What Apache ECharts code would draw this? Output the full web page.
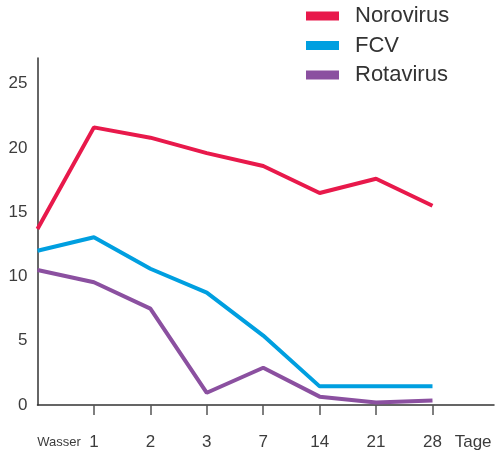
<!DOCTYPE html>
<html>
<head>
<meta charset="utf-8">
<script src="https://cdn.jsdelivr.net/npm/echarts@6/dist/echarts.min.js"></script>
<style>
  html, body { margin: 0; padding: 0; background: #fff; }
  #chart { width: 495px; height: 452px; }
</style>
</head>
<body>
<div id="chart"></div>
<script>
// Tage nach Kontakt
var categories = ['Wasser', '1', '2', '3', '7', '14', '21', '28'];
var norovirus = [13.7, 21.6, 20.8, 19.6, 18.6, 16.5, 17.6, 15.5];
var fcv = [12.0, 13.05, 10.6, 8.75, 5.4, 1.45, 1.45, 1.45];
var rotavirus = [10.5, 9.55, 7.5, 0.95, 2.9, 0.65, 0.2, 0.35];
var yTicks = [0, 5, 10, 15, 20, 25];

var fontFam = 'Liberation Sans, Arial, sans-serif';

function toPoints(vals) {
  return vals.map(function (v, i) { return [i, v]; });
}

var tickIdx = categories.map(function (c, i) { return i; });
var TAGE_POS = 7.72; // wo das "Tage" steht

var chart = echarts.init(document.getElementById('chart'));
var option = {
  animation: false,
  textStyle: { fontFamily: fontFam },
  grid: { left: 37.5, right: 1, top: 58, bottom: 47, containLabel: false, outerBoundsMode: 'none' },
  legend: {
    orient: 'vertical',
    left: 306,
    top: 5,
    padding: 0,
    icon: 'rect',
    itemWidth: 33,
    itemHeight: 9,
    itemGap: 7.5,
    textStyle: { fontSize: 22, color: '#333', padding: [0, 0, 0, 11], fontFamily: fontFam },
    data: ['Norovirus', 'FCV', 'Rotavirus']
  },
  xAxis: {
    type: 'value',
    min: 0,
    max: 8.09,
    axisLine: { lineStyle: { color: '#333', width: 1.5 } },
    axisTick: {
      show: true,
      length: 10,
      customValues: tickIdx.slice(1),
      lineStyle: { color: '#555', width: 1.5 }
    },
    splitLine: { show: false },
    axisLabel: {
      customValues: tickIdx.concat([TAGE_POS]),
      margin: 29,
      fontSize: 17,
      color: '#3c3c3c',
      formatter: function (v) {
        if (v === 0) return '{w|' + categories[0] + '}';
        if (v === TAGE_POS) return 'Tage';
        return categories[v];
      },
      rich: {
        w: { fontSize: 13, color: '#3c3c3c', padding: [0, 0, 0, 43], lineHeight: 17 }
      }
    }
  },
  yAxis: {
    type: 'value',
    min: 0,
    max: 27,
    interval: 5,
    axisLine: { show: true, lineStyle: { color: '#333', width: 1.5 } },
    axisTick: { show: false },
    splitLine: { show: false },
    axisLabel: {
      customValues: yTicks,
      margin: 10,
      fontSize: 17,
      color: '#3c3c3c'
    }
  },
  series: [
    {
      name: 'Norovirus', type: 'line', data: toPoints(norovirus),
      symbol: 'none', color: '#E8194B', lineStyle: { width: 4 }
    },
    {
      name: 'FCV', type: 'line', data: toPoints(fcv),
      symbol: 'none', color: '#009FE0', lineStyle: { width: 4 }
    },
    {
      name: 'Rotavirus', type: 'line', data: toPoints(rotavirus),
      symbol: 'none', color: '#8B50A0', lineStyle: { width: 4 }
    }
  ]
};
chart.setOption(option);
</script>
</body>
</html>
